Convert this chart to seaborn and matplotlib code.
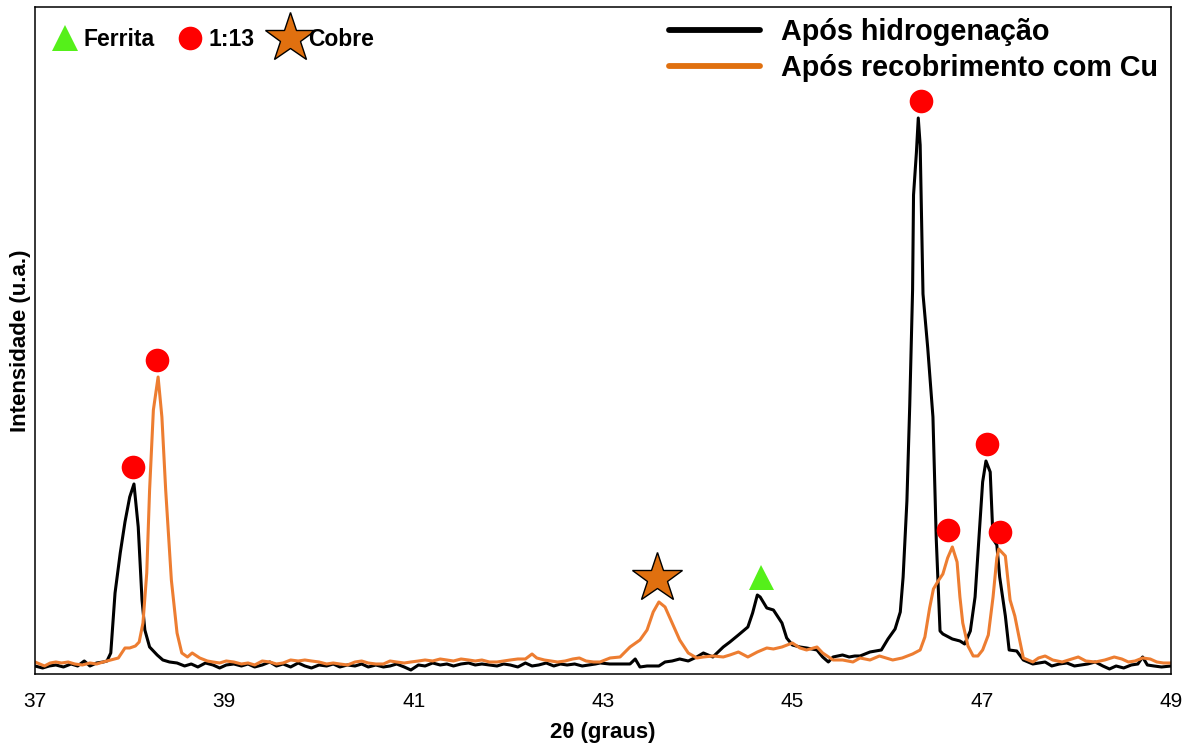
import numpy as np
import pandas as pd
import matplotlib
matplotlib.use("Agg")
import matplotlib.pyplot as plt
from matplotlib.lines import Line2D
import seaborn as sns

# --- X-ray diffraction patterns (2θ in degrees, intensity in arbitrary units) ---
theta_hidrog = [
    37.00, 37.08, 37.15, 37.22, 37.30, 37.38, 37.45, 37.52, 37.58, 37.65, 37.72, 37.76,
    37.80, 37.845, 37.90, 37.95, 38.00, 38.045, 38.09, 38.13, 38.16, 38.21, 38.29, 38.35,
    38.42, 38.50, 38.58, 38.65, 38.72, 38.80, 38.88, 38.95, 39.02, 39.10, 39.18, 39.25,
    39.32, 39.40, 39.48, 39.55, 39.62, 39.70, 39.78, 39.85, 39.92, 40.00, 40.08, 40.15,
    40.22, 40.30, 40.38, 40.45, 40.52, 40.60, 40.68, 40.75, 40.82, 40.90, 40.97, 41.05,
    41.12, 41.20, 41.28, 41.35, 41.42, 41.50, 41.58, 41.65, 41.72, 41.80, 41.88, 41.95,
    42.02, 42.10, 42.18, 42.25, 42.32, 42.40, 42.48, 42.55, 42.62, 42.70, 42.78, 42.85,
    42.92, 42.97, 43.07, 43.18, 43.285, 43.34, 43.39, 43.465, 43.53, 43.59, 43.655, 43.73,
    43.81, 43.90, 43.99, 44.06, 44.16, 44.27, 44.34, 44.43, 44.53, 44.58, 44.63, 44.66,
    44.73, 44.80, 44.89, 44.94, 45.00, 45.08, 45.15, 45.26, 45.32, 45.38, 45.43, 45.53,
    45.60, 45.66, 45.715, 45.82, 45.94, 46.01, 46.085, 46.14, 46.17, 46.21, 46.24, 46.27,
    46.28, 46.31, 46.33, 46.35, 46.38, 46.43, 46.485, 46.52, 46.56, 46.59, 46.69, 46.77,
    46.82, 46.88, 46.93, 46.97, 47.01, 47.045, 47.09, 47.12, 47.16, 47.19, 47.25, 47.29,
    47.37, 47.44, 47.54, 47.67, 47.74, 47.82, 47.90, 47.98, 48.05, 48.12, 48.20, 48.28,
    48.35, 48.42, 48.50, 48.58, 48.65, 48.70, 48.75, 48.82, 48.90, 49.00,
]
int_hidrog = [
    8, 6, 8, 9, 7, 10, 8, 13, 8, 11, 12, 13,
    21, 81, 121, 152, 177, 190, 147, 74, 44, 27, 19, 14,
    12, 11, 8, 10, 7, 11, 9, 6, 9, 10, 8, 10,
    7, 9, 12, 8, 10, 7, 11, 8, 6, 9, 8, 10,
    7, 9, 8, 10, 7, 9, 7, 8, 10, 7, 4, 9,
    8, 11, 9, 10, 8, 10, 11, 9, 10, 9, 8, 10,
    9, 7, 11, 8, 9, 11, 8, 10, 9, 10, 8, 9,
    10, 11, 10, 10, 10, 15, 7, 8, 8, 8, 12, 13,
    15, 13, 17, 21, 17, 27, 32, 39, 47, 61, 79, 77,
    66, 64, 51, 36, 29, 27, 26, 24, 17, 12, 17, 19,
    17, 18, 18, 22, 24, 35, 45, 62, 97, 173, 269, 384,
    479, 521, 556, 529, 380, 326, 257, 135, 43, 40, 35, 33,
    30, 43, 77, 135, 192, 213, 202, 135, 129, 97, 58, 24,
    23, 14, 10, 12, 8, 10, 11, 8, 9, 10, 12, 8,
    5, 8, 6, 9, 10, 17, 9, 8, 7, 8,
]

theta_cu = [
    37.00, 37.05, 37.10, 37.16, 37.22, 37.28, 37.35, 37.42, 37.50, 37.58, 37.65, 37.72,
    37.80, 37.88, 37.95, 38.00, 38.06, 38.10, 38.14, 38.18, 38.21, 38.25, 38.30, 38.34,
    38.38, 38.44, 38.50, 38.55, 38.61, 38.66, 38.74, 38.82, 38.88, 38.95, 39.02, 39.10,
    39.18, 39.25, 39.32, 39.40, 39.48, 39.55, 39.62, 39.70, 39.78, 39.85, 39.92, 40.00,
    40.08, 40.15, 40.22, 40.30, 40.38, 40.45, 40.52, 40.60, 40.68, 40.75, 40.82, 40.90,
    40.97, 41.05, 41.12, 41.20, 41.28, 41.35, 41.42, 41.50, 41.58, 41.65, 41.72, 41.80,
    41.88, 41.95, 42.02, 42.10, 42.18, 42.25, 42.30, 42.38, 42.45, 42.52, 42.60, 42.68,
    42.75, 42.82, 42.90, 42.968, 43.074, 43.18, 43.285, 43.39, 43.465, 43.53, 43.59, 43.655,
    43.73, 43.81, 43.90, 43.99, 44.06, 44.16, 44.27, 44.34, 44.43, 44.53, 44.63, 44.73,
    44.80, 44.89, 45.00, 45.08, 45.15, 45.26, 45.32, 45.43, 45.53, 45.64, 45.715, 45.82,
    45.92, 46.06, 46.16, 46.27, 46.35, 46.40, 46.45, 46.49, 46.54, 46.59, 46.64, 46.69,
    46.74, 46.77, 46.80, 46.855, 46.91, 46.96, 47.01, 47.07, 47.12, 47.16, 47.18, 47.25,
    47.30, 47.35, 47.39, 47.44, 47.54, 47.60, 47.67, 47.75, 47.85, 47.95, 48.02, 48.10,
    48.20, 48.30, 48.40, 48.48, 48.55, 48.62, 48.70, 48.78, 48.85, 48.92, 49.00,
]
int_cu = [
    12, 10, 8, 11, 12, 11, 12, 10, 9, 11, 10, 12,
    14, 16, 26, 26, 28, 32, 51, 101, 184, 264, 297, 257,
    184, 94, 41, 21, 17, 21, 16, 13, 12, 11, 13, 12,
    10, 11, 9, 13, 12, 10, 11, 14, 13, 14, 13, 12,
    10, 11, 10, 9, 12, 13, 11, 10, 10, 13, 12, 11,
    12, 13, 14, 13, 15, 14, 13, 15, 14, 13, 14, 12,
    12, 13, 14, 15, 15, 20, 16, 14, 13, 12, 13, 15,
    16, 13, 12, 12, 16, 17, 27, 34, 44, 62, 72, 67,
    51, 34, 21, 16, 17, 18, 17, 19, 22, 17, 22, 26,
    25, 27, 31, 26, 24, 27, 21, 14, 14, 12, 16, 14,
    18, 14, 16, 20, 24, 37, 66, 85, 93, 100, 116, 127,
    112, 77, 51, 28, 18, 18, 24, 39, 77, 116, 125, 118,
    74, 58, 39, 16, 12, 16, 18, 14, 12, 15, 17, 13,
    12, 14, 17, 15, 12, 13, 16, 15, 12, 11, 11,
]

# Peak identification (2θ, peak height)
peaks_113_theta = [38.035, 38.29, 46.36, 47.055, 46.64, 47.19]
peaks_113_int = [190, 297, 556, 213, 127, 125]
peak_cobre_theta = [43.57]
peak_cobre_int = [72]
peak_ferrita_theta = [44.67]
peak_ferrita_int = [79]

series_labels = ["Após hidrogenação", "Após recobrimento com Cu"]
phase_labels = ["Ferrita", "1:13", "Cobre"]
xticks = [37, 39, 41, 43, 45, 47, 49]

BLACK = "#000000"
ORANGE = "#ED7D31"
ORANGE_DARK = "#E0700F"
RED = "#FF0000"
GREEN = "#55F01A"

sns.set_style("white")
plt.rcParams["font.family"] = ["Liberation Sans", "DejaVu Sans"]
plt.rcParams["text.color"] = BLACK
plt.rcParams["axes.labelcolor"] = BLACK
plt.rcParams["xtick.color"] = BLACK
plt.rcParams["ytick.color"] = BLACK

df = pd.concat([
    pd.DataFrame({"theta": theta_hidrog, "intensidade": int_hidrog, "amostra": series_labels[0]}),
    pd.DataFrame({"theta": theta_cu, "intensidade": int_cu, "amostra": series_labels[1]}),
])

fig = plt.figure(figsize=(11.92, 7.44), dpi=100)
ax = fig.add_axes([0.0294, 0.0941, 0.9530, 0.8965])

sns.lineplot(data=df, x="theta", y="intensidade", hue="amostra",
             palette={series_labels[0]: BLACK, series_labels[1]: ORANGE},
             hue_order=series_labels, sort=False, estimator=None,
             linewidth=2.2, legend=False, ax=ax)

# Phase markers drawn just above each peak
ax.plot(peaks_113_theta, np.array(peaks_113_int) + 17, linestyle="none",
        marker="o", markersize=17, color=RED, markeredgewidth=0)
ax.plot(peak_cobre_theta, np.array(peak_cobre_int) + 24, linestyle="none",
        marker="*", markersize=38, markerfacecolor=ORANGE_DARK,
        markeredgecolor=BLACK, markeredgewidth=1.0)
ax.plot(peak_ferrita_theta, np.array(peak_ferrita_int) + 18, linestyle="none",
        marker="^", markersize=18, color=GREEN, markeredgewidth=0)

ax.set_xlim(37, 49)
ax.set_ylim(0, 667)
ax.set_xticks(xticks)
ax.set_xticklabels([str(t) for t in xticks])
ax.set_yticks([])
ax.tick_params(axis="x", length=0, pad=13, labelsize=15, labelcolor=BLACK)
for s in ax.spines.values():
    s.set_visible(True)
    s.set_color(BLACK)
    s.set_linewidth(1.1)

ax.set_xlabel("2θ (graus)", fontsize=16, fontweight="bold", labelpad=8, color=BLACK)
ax.set_ylabel("Intensidade (u.a.)", fontsize=16, fontweight="bold", labelpad=3, color=BLACK)

# Series legend (top right)
series_handles = [Line2D([], [], color=BLACK, linewidth=4.2),
                  Line2D([], [], color=ORANGE_DARK, linewidth=4.2)]
leg1 = ax.legend(series_handles, series_labels, loc="center left",
                 bbox_to_anchor=(0.5585, 0.9355), frameon=False,
                 prop={"size": 20.7, "weight": "bold"},
                 handlelength=3.15, handletextpad=0.72, labelspacing=0.27,
                 borderaxespad=0.0, borderpad=0.0)
for t in leg1.get_texts():
    t.set_color(BLACK)
ax.add_artist(leg1)

# Phase legend (top left)
phase_handles = [
    Line2D([], [], linestyle="none", marker="^", markersize=19, color=GREEN, markeredgewidth=0),
    Line2D([], [], linestyle="none", marker="o", markersize=17, color=RED, markeredgewidth=0),
    Line2D([], [], linestyle="none", marker="*", markersize=38, markerfacecolor=ORANGE_DARK,
           markeredgecolor=BLACK, markeredgewidth=1.0),
]
leg2 = ax.legend(phase_handles, phase_labels, loc="center left", ncol=3, frameon=False,
                 bbox_to_anchor=(0.0114, 0.951),
                 prop={"size": 16.5, "weight": "bold"}, handlelength=1.5, handletextpad=0.04,
                 columnspacing=0.8, borderaxespad=0.0, borderpad=0.0)
for t in leg2.get_texts():
    t.set_color(BLACK)

fig.savefig("out.png", dpi=100)
